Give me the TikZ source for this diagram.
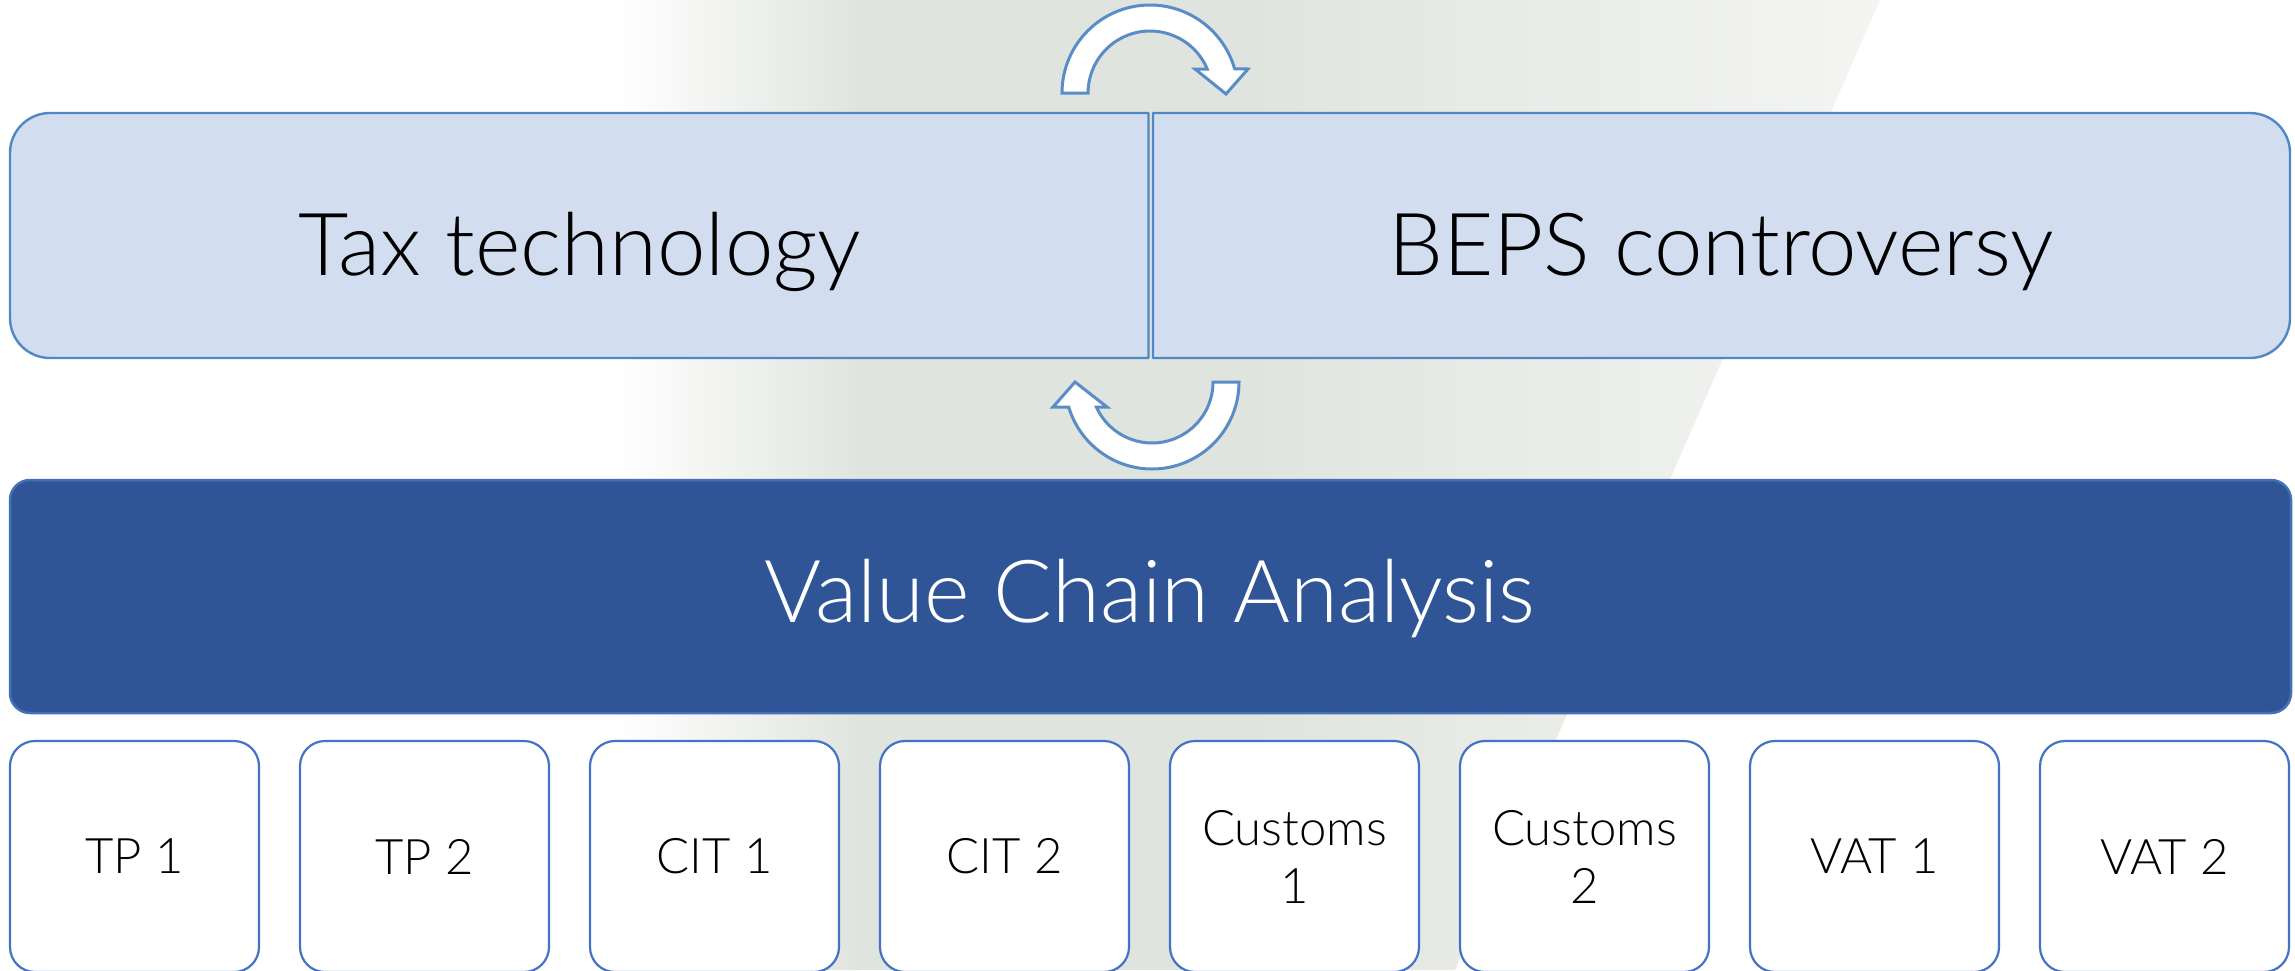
\documentclass[tikz,border=0pt]{standalone}
\usepackage{fontspec}
\setmainfont{Lato Light}
\definecolor{bgg}{HTML}{E0E4DE}
\definecolor{bgl}{HTML}{F4F5F3}
\definecolor{topfill}{HTML}{D2DEEF}
\definecolor{topline}{HTML}{5087C4}
\definecolor{darkfill}{HTML}{2F5597}
\definecolor{darkline}{HTML}{4470B8}
\definecolor{smallline}{HTML}{4472C4}
\definecolor{arrline}{HTML}{5A8CC8}
\tikzset{
  topbox/.style={fill=topfill, draw=topline, line width=2.4pt, line join=round},
  cyc/.style={fill=white, draw=arrline, line width=3pt, line join=miter},
  darkbox/.style={rectangle, fill=darkfill, draw=darkline, line width=2.5pt, rounded corners=20pt, inner sep=0pt},
  smallbox/.style={rectangle, fill=white, draw=smallline, line width=2.2pt, rounded corners=25pt,
    minimum width=249pt, minimum height=231pt, inner sep=0pt, align=center,
    font=\fontsize{49}{58}\selectfont},
  bigtxt/.style={inner sep=0pt, font=\fontsize{87}{100}\selectfont},
}
\begin{document}
\begin{tikzpicture}[x=1pt,y=-1pt]
\useasboundingbox (0,0) rectangle (2295,970);
\clip (0,0) rectangle (2295,970);
% background band
\begin{scope}
  \clip (616,0) -- (1880,0) -- (1455,970) -- (616,970) -- cycle;
  \shade[left color=white, right color=bgg] (616,0) rectangle (861,970);
  \fill[bgg] (860,0) rectangle (1251,970);
  \shade[left color=bgg, right color=bgl] (1250,0) rectangle (1880,970);
\end{scope}
% top boxes
\draw[topbox] (1148.5,113) -- (50,113) arc[start angle=270,end angle=180,radius=40]
  -- (10,318) arc[start angle=180,end angle=90,radius=40] -- (1148.5,358) -- cycle;
\draw[topbox] (1153,113) -- (2250,113) arc[start angle=270,end angle=360,radius=40]
  -- (2290,318) arc[start angle=0,end angle=90,radius=40] -- (1153,358) -- cycle;
\node[bigtxt, anchor=base] (tax) at (580,275) {Tax technology};
\node[bigtxt, anchor=base] (beps) at (1721,275) {BEPS controversy};
% cycle arrows
\draw[cyc] (1062,93) arc[start angle=180,end angle=344,radius=88] -- (1248,69) -- (1226,94)
  -- (1195,69) -- (1207.2,69) arc[start angle=337.2,end angle=180,radius=62] -- cycle;
\draw[cyc] (1239,382) arc[start angle=0,end angle=163.3,radius=87] -- (1053,407) -- (1075,382)
  -- (1107,407) -- (1096.4,407) arc[start angle=155.8,end angle=0,radius=61] -- cycle;
% value chain
\node[darkbox, minimum width=2281pt, minimum height=233pt] (vcabox) at (1150.5,596.5) {};
\node[bigtxt, text=white, anchor=base] (vca) at (1150,622) {Value Chain Analysis};
% small boxes
\foreach \i/\t in {0/TP 1,1/TP 2,2/CIT 1,3/CIT 2,4/Customs\\1,5/Customs\\2,6/VAT 1,7/VAT 2}{
  \node[smallbox] (s\i) at ({134.5+290*\i},856.5) {\t};
}
\end{tikzpicture}
\end{document}
